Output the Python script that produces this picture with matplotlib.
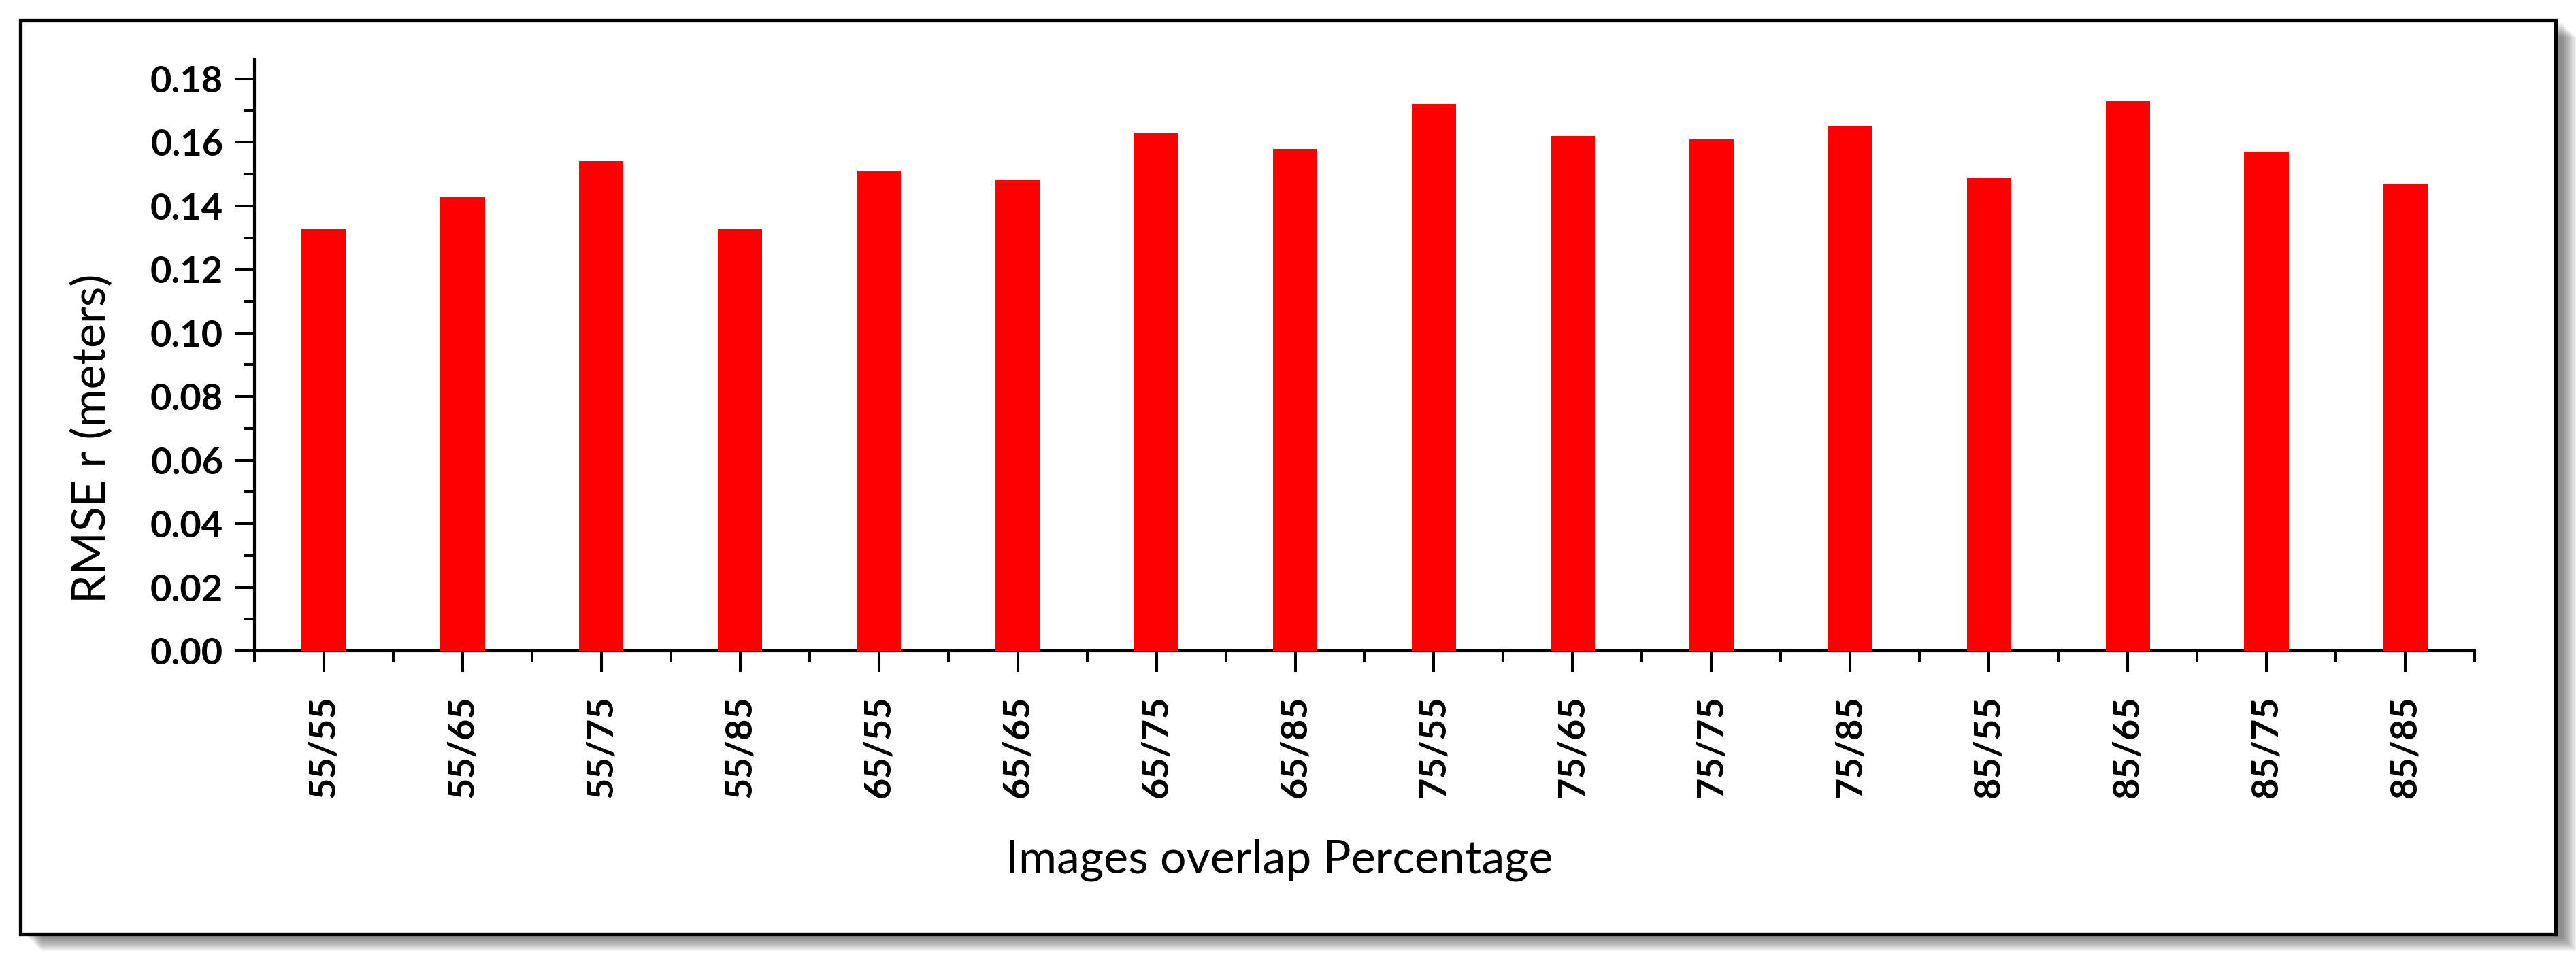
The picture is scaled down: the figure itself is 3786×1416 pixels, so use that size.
import matplotlib
matplotlib.use("Agg")
import matplotlib.pyplot as plt
from matplotlib.patches import Rectangle
from matplotlib.ticker import MultipleLocator, FixedLocator
import numpy as np

# ---- data ----
categories = ["55/55", "55/65", "55/75", "55/85",
              "65/55", "65/65", "65/75", "65/85",
              "75/55", "75/65", "75/75", "75/85",
              "85/55", "85/65", "85/75", "85/85"]
rmse = [0.133, 0.143, 0.154, 0.133,
        0.151, 0.148, 0.163, 0.158,
        0.172, 0.162, 0.161, 0.165,
        0.149, 0.173, 0.157, 0.147]
y_ticks = [0.00, 0.02, 0.04, 0.06, 0.08, 0.10, 0.12, 0.14, 0.16, 0.18]
x_title = "Images overlap Percentage"
y_title = "RMSE r (meters)"

plt.rcParams['font.family'] = ['Lato', 'DejaVu Sans']

W, H = 3787, 1416
DPI = 100
fig = plt.figure(figsize=(W / DPI, H / DPI), dpi=DPI)
fig.patch.set_facecolor("white")

# ---- outer frame with drop shadow (figure pixel coords -> fractions) ----
fx0, fy0, fx1, fy1 = 30, 30, 3756, 1374  # left, top, right, bottom in px
def fr(x, y):
    return x / W, 1 - y / H
for i in range(14):
    off = 4 + i * 1.6
    x, y = fr(fx0 + off + 6, fy1 + off)
    w = (fx1 - fx0) / W
    h = (fy1 - fy0) / H
    fig.patches.append(Rectangle((x, y), w, h, transform=fig.transFigure,
                                 facecolor="black", edgecolor="none",
                                 alpha=0.04, zorder=0))
x, y = fr(fx0, fy1)
fig.patches.append(Rectangle((x, y), (fx1 - fx0) / W, (fy1 - fy0) / H,
                             transform=fig.transFigure, facecolor="white",
                             edgecolor="black", linewidth=3.8, zorder=1))

# ---- axes ----
ax_l, ax_r, ax_t, ax_b = 374, 3637, 87, 957
ax = fig.add_axes([ax_l / W, 1 - ax_b / H, (ax_r - ax_l) / W, (ax_b - ax_t) / H])
ax.set_zorder(5)
ax.patch.set_alpha(0)

xpos = np.arange(len(categories))
ax.bar(xpos, rmse, width=0.32, color="#FF0000", edgecolor="none", zorder=3)

ax.set_xlim(-0.5, len(categories) - 0.5)
ax.set_ylim(0, 0.1862)

ax.set_xticks(xpos)
ax.set_xticklabels(categories, rotation=90, fontweight="bold", fontsize=39)
ax.xaxis.set_minor_locator(FixedLocator(np.arange(-0.5, len(categories), 1.0)))
ax.set_yticks(y_ticks)
ax.set_yticklabels([f"{v:.2f}" for v in y_ticks], fontweight="bold", fontsize=39)
ax.yaxis.set_minor_locator(MultipleLocator(0.01))

for side in ["top", "right"]:
    ax.spines[side].set_visible(False)
for side in ["left", "bottom"]:
    ax.spines[side].set_linewidth(3.0)

ax.tick_params(axis="x", which="major", direction="out", length=22, width=2.9, pad=25)
ax.tick_params(axis="x", which="minor", direction="out", length=12, width=2.9)
ax.tick_params(axis="y", which="major", direction="out", length=21, width=2.9, pad=12)
ax.tick_params(axis="y", which="minor", direction="out", length=11, width=2.9)

ax.set_xlabel(x_title, fontsize=49, va="baseline")
ax.xaxis.set_label_coords((1880 - ax_l) / (ax_r - ax_l), (ax_b - 1284) / (ax_b - ax_t))
ax.set_ylabel(y_title, fontsize=49, va="baseline")
ax.yaxis.set_label_coords((155 - ax_l) / (ax_r - ax_l), (ax_b - 645) / (ax_b - ax_t))

fig.savefig("out.png", dpi=DPI, facecolor="white")
